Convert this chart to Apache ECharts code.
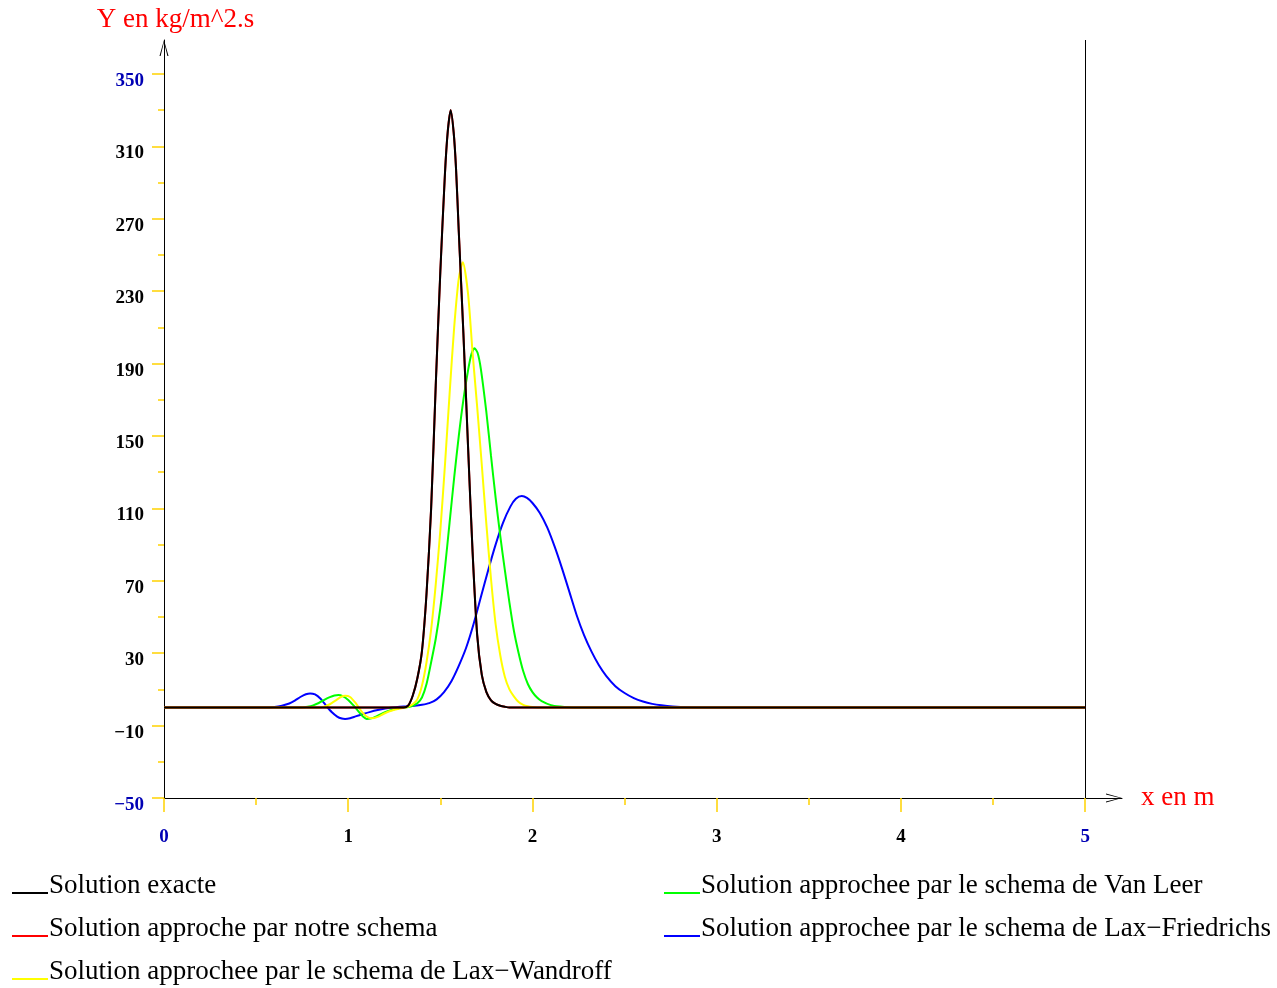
<!DOCTYPE html>
<html>
<head>
<meta charset="utf-8">
<title>Solutions</title>
<script src="https://cdn.jsdelivr.net/npm/echarts@6/dist/echarts.min.js"></script>
<style>
  html, body { margin: 0; padding: 0; background: #fff; }
  #chart { width: 1277px; height: 988px; }
</style>
</head>
<body>
<div id="chart"></div>
<script>
// Axis ticks and labels
const xTicks = [0, 1, 2, 3, 4, 5];
const xMinorTicks = [0.5, 1.5, 2.5, 3.5, 4.5];
const yTicks = [-50, -10, 30, 70, 110, 150, 190, 230, 270, 310, 350];
const yMinorTicks = [-30, 10, 50, 90, 130, 170, 210, 250, 290, 330];

// Series as [x (m), Y (kg/m^2.s)] pairs
const solutionExacte = [
  [0, 0], [1.30, 0], [1.325, 1], [1.35, 6.5], [1.375, 16], [1.40, 31], [1.425, 63], [1.45, 110],
  [1.475, 178], [1.50, 241], [1.525, 295], [1.54, 318], [1.556, 330], [1.572, 318], [1.585, 298],
  [1.60, 263], [1.625, 207], [1.65, 145], [1.675, 86], [1.70, 40], [1.725, 18], [1.75, 8.5],
  [1.775, 4], [1.80, 2], [1.825, 1], [1.85, 0.4], [1.875, 0], [5, 0]
];
const solutionNotreSchema = [
  [0, 0], [1.30, 0], [1.325, 1], [1.35, 6.5], [1.375, 16], [1.40, 31], [1.425, 63], [1.45, 110],
  [1.475, 178], [1.50, 241], [1.525, 295], [1.54, 318], [1.556, 330], [1.572, 318], [1.585, 298],
  [1.60, 263], [1.625, 207], [1.65, 145], [1.675, 86], [1.70, 40], [1.725, 18], [1.75, 8.5],
  [1.775, 4], [1.80, 2], [1.825, 1], [1.85, 0.4], [1.875, 0], [5, 0]
];
const laxWandroff = [
  [0, 0], [0.84, 0], [0.87, 0.5], [0.90, 1.8], [0.93, 3.8], [0.96, 5.8], [0.983, 6.5], [1.01, 5.8],
  [1.04, 2.5], [1.07, -1.8], [1.10, -5], [1.128, -6], [1.16, -5.2], [1.19, -3.6], [1.22, -2.2],
  [1.25, -1.2], [1.28, -0.5], [1.30, -0.2], [1.325, 0.5], [1.35, 1.8], [1.375, 4.5], [1.40, 12],
  [1.425, 25], [1.45, 43], [1.475, 68], [1.50, 98], [1.525, 134], [1.55, 173], [1.575, 210],
  [1.60, 237], [1.622, 246], [1.65, 229], [1.675, 196], [1.70, 166], [1.725, 134], [1.75, 101],
  [1.775, 71], [1.80, 46], [1.825, 29], [1.85, 17], [1.875, 10], [1.90, 6], [1.925, 3],
  [1.95, 1.5], [1.975, 0.7], [2.00, 0.3], [2.05, 0], [5, 0]
];
const vanLeer = [
  [0, 0], [0.75, 0], [0.78, 0.4], [0.81, 1.2], [0.84, 2.5], [0.87, 4.2], [0.90, 5.7], [0.925, 6.6],
  [0.947, 6.9], [0.97, 6.3], [1.00, 4.2], [1.03, 1], [1.06, -2.7], [1.08, -5], [1.10, -6.3],
  [1.125, -6], [1.15, -5], [1.18, -3.5], [1.21, -2.2], [1.24, -1.2], [1.27, -0.5], [1.30, -0.1],
  [1.325, 0.2], [1.35, 0.9], [1.375, 2.3], [1.40, 5.5], [1.425, 13], [1.45, 25], [1.475, 38],
  [1.50, 55], [1.525, 77], [1.55, 102], [1.575, 127], [1.60, 150], [1.625, 170], [1.65, 186],
  [1.668, 195], [1.685, 198.5], [1.702, 196], [1.72, 187], [1.75, 163], [1.775, 139], [1.80, 116],
  [1.825, 95], [1.85, 76], [1.875, 58], [1.90, 42], [1.925, 30], [1.95, 20], [1.975, 13],
  [2.00, 8.5], [2.025, 5.5], [2.05, 3.5], [2.10, 1.3], [2.15, 0.5], [2.20, 0.1], [2.25, 0], [5, 0]
];
const laxFriedrichs = [
  [0, 0], [0.55, 0], [0.60, 0.3], [0.64, 1], [0.68, 2.2], [0.71, 3.8], [0.74, 5.8], [0.77, 7.3],
  [0.793, 7.8], [0.82, 7.2], [0.85, 4.8], [0.88, 1], [0.91, -2.5], [0.94, -5], [0.965, -6.1],
  [0.983, -6.3], [1.01, -5.9], [1.04, -4.9], [1.08, -3.6], [1.12, -2.4], [1.16, -1.4], [1.20, -0.6],
  [1.24, 0], [1.28, 0.4], [1.32, 0.7], [1.36, 1], [1.40, 1.5], [1.44, 2.4], [1.48, 4.5],
  [1.52, 8.5], [1.56, 14.5], [1.60, 23], [1.64, 33], [1.68, 46], [1.72, 61], [1.76, 76],
  [1.80, 90], [1.84, 102], [1.88, 111], [1.91, 115.3], [1.942, 116.8], [1.97, 115.8], [2.00, 113],
  [2.04, 107.5], [2.08, 99.5], [2.12, 89], [2.16, 77], [2.20, 64], [2.24, 51], [2.28, 40],
  [2.32, 31], [2.36, 23.5], [2.40, 17.5], [2.45, 11.8], [2.50, 8], [2.55, 5.2], [2.60, 3.3],
  [2.65, 2], [2.70, 1.2], [2.76, 0.6], [2.85, 0.2], [3.0, 0], [5, 0]
];

const FONT = 'Liberation Serif, Times New Roman, serif';
const GOLD = '#ffd200';
const TICK_BLUE = '#0000b4';
// Open chevron used as the axis arrow head (tip at the top, 9x16 box)
const CHEVRON = 'path://M4.5,0 L9,16 L7.9,16 L4.5,2 L1.1,16 L0,16 Z';
// Legend key: a short line along the bottom of the key box
const KEY = 'path://M0,0 L0.1,0 L0.1,0.1 Z M0,14 L36,14 L36,16 L0,16 Z';

const N_EXACTE = 'Solution exacte';
const N_NOTRE = 'Solution approche par notre schema';
const N_LW = 'Solution approchee par le schema de Lax\u2212Wandroff';
const N_VL = 'Solution approchee par le schema de Van Leer';
const N_LF = 'Solution approchee par le schema de Lax\u2212Friedrichs';

const minus = v => String(v).replace('-', '\u2212');

function curve(name, data, color, z) {
  return {
    name: name,
    type: 'line',
    data: data,
    showSymbol: false,
    symbol: 'none',
    smooth: 0.25,
    z: z,
    itemStyle: { color: color },
    lineStyle: { color: color, width: 2 },
    emphasis: { disabled: true }
  };
}

const legendText = { fontFamily: FONT, fontSize: 27, color: '#000', lineHeight: 30, padding: [0, 0, 0, -4] };
function legendBlock(names, left) {
  return {
    data: names.map(n => ({ name: n, icon: KEY })),
    orient: 'vertical',
    left: left,
    top: 871,
    padding: 0,
    itemWidth: 36,
    itemHeight: 16,
    itemGap: 13,
    selectedMode: false,
    itemStyle: { borderWidth: 0 },
    textStyle: legendText
  };
}

const exactSeries = curve(N_EXACTE, solutionExacte, '#000000', 6);
exactSeries.markLine = {
  silent: true,
  symbol: ['none', 'none'],
  label: { show: false },
  lineStyle: { color: '#000', width: 1, type: 'solid' },
  emphasis: { disabled: true },
  data: [{ xAxis: 5 }]
};

const option = {
  animation: false,
  backgroundColor: '#ffffff',
  grid: { left: 164, top: 40, width: 958, height: 758 },
  xAxis: [
    {
      type: 'value', position: 'bottom', min: 0, max: 5.2,
      name: 'x en m', nameLocation: 'end', nameGap: 19,
      nameTextStyle: { color: '#ff0000', fontFamily: FONT, fontSize: 27, verticalAlign: 'middle' },
      axisLine: {
        onZero: false,
        lineStyle: { color: '#000', width: 1 },
        symbol: ['none', CHEVRON], symbolSize: [9, 16], symbolOffset: [0, -8]
      },
      axisTick: { customValues: xTicks, length: 14, lineStyle: { color: GOLD, width: 1.5 } },
      axisLabel: {
        customValues: xTicks, margin: 30,
        fontFamily: FONT, fontSize: 19, fontWeight: 'bold',
        color: v => (Number(v) === 0 || Number(v) === 5) ? TICK_BLUE : '#000'
      },
      splitLine: { show: false }
    },
    {
      type: 'value', position: 'bottom', offset: 0, min: 0, max: 5.2,
      axisLine: { show: false, onZero: false },
      axisTick: { customValues: xMinorTicks, length: 7, lineStyle: { color: GOLD, width: 1.5 } },
      axisLabel: { show: false },
      splitLine: { show: false }
    }
  ],
  yAxis: [
    {
      type: 'value', position: 'left', min: -50, max: 368.8,
      name: 'Y en kg/m^2.s', nameLocation: 'end', nameGap: 7,
      nameTextStyle: { color: '#ff0000', fontFamily: FONT, fontSize: 27, padding: [0, 0, 0, 23] },
      axisLine: {
        onZero: false,
        lineStyle: { color: '#000', width: 1 },
        symbol: ['none', CHEVRON], symbolSize: [9, 16], symbolOffset: [0, -8]
      },
      axisTick: { customValues: yTicks, length: 12, lineStyle: { color: GOLD, width: 1.5 } },
      axisLabel: {
        customValues: yTicks, margin: 20,
        fontFamily: FONT, fontSize: 19, fontWeight: 'bold',
        verticalAlign: 'top', lineHeight: 14,
        formatter: minus,
        color: v => (Number(v) === -50 || Number(v) === 350) ? TICK_BLUE : '#000'
      },
      splitLine: { show: false }
    },
    {
      type: 'value', position: 'left', offset: 0, min: -50, max: 368.8,
      axisLine: { show: false, onZero: false },
      axisTick: { customValues: yMinorTicks, length: 6, lineStyle: { color: GOLD, width: 1.5 } },
      axisLabel: { show: false },
      splitLine: { show: false }
    }
  ],
  legend: [
    legendBlock([N_EXACTE, N_NOTRE, N_LW], 12),
    legendBlock([N_VL, N_LF], 664)
  ],
  series: [
    curve(N_LF, laxFriedrichs, '#0000ff', 2),
    curve(N_VL, vanLeer, '#00ff00', 3),
    curve(N_LW, laxWandroff, '#ffff00', 4),
    curve(N_NOTRE, solutionNotreSchema, '#ff0000', 5),
    exactSeries
  ]
};

const chart = echarts.init(document.getElementById('chart'), null, { renderer: 'canvas' });
chart.setOption(option);
</script>
</body>
</html>
